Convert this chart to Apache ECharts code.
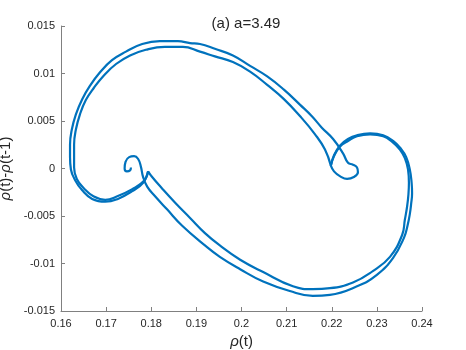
<!DOCTYPE html>
<html>
<head>
<meta charset="utf-8">
<script src="https://cdn.jsdelivr.net/npm/echarts@6/dist/echarts.min.js"></script>
<style>
html,body{margin:0;padding:0;background:#fff;}
#chart{width:466px;height:350px;}
</style>
</head>
<body>
<div id="chart"></div>
<script>
const titleText = '(a) a=3.49';
const xTicks = [0.16, 0.17, 0.18, 0.19, 0.2, 0.21, 0.22, 0.23, 0.24];
const yTicks = [-0.015, -0.01, -0.005, 0, 0.005, 0.01, 0.015];

// outer band: right V tip -> right arc -> right side -> bottom -> lower diagonal -> left curl
const outerLower = [
  [0.2198, 0.0003], [0.2205, 0.0014], [0.2218, 0.0024], [0.2236, 0.0031], [0.2256, 0.0035],
  [0.2285, 0.0037], [0.2314, 0.0035], [0.2336, 0.0029], [0.2353, 0.0021], [0.2365, 0.0012],
  [0.2373, -0.0001], [0.2377, -0.0015], [0.2378, -0.0026], [0.2376, -0.0037], [0.2373, -0.0048],
  [0.2368, -0.0060], [0.2360, -0.0073], [0.2336, -0.0094], [0.2300, -0.0112], [0.2256, -0.0124],
  [0.2196, -0.0133], [0.2158, -0.0134], [0.2107, -0.0129], [0.2048, -0.0119], [0.1997, -0.0106],
  [0.1952, -0.0093], [0.1919, -0.0081], [0.1868, -0.0060], [0.1835, -0.0043], [0.1808, -0.0029],
  [0.1791, -0.0019], [0.1782, -0.0009], [0.1777, 0.0002], [0.1771, 0.0010], [0.1762, 0.0013],
  [0.1751, 0.0012], [0.1743, 0.0007], [0.1741, 0.0000], [0.1746, -0.0003], [0.1753, -0.0002],
  [0.1755, 0.0001]
];

// outer band: left V tip -> left arc -> left side -> top -> upper diagonal -> right curl
const outerUpper = [
  [0.1793, -0.0003], [0.1782, -0.0015], [0.1757, -0.0024], [0.1726, -0.0032], [0.1698, -0.0035],
  [0.1669, -0.0032], [0.1647, -0.0023], [0.1631, -0.0012], [0.1622, -0.0001], [0.1620, 0.0012],
  [0.1620, 0.0025], [0.1624, 0.0041], [0.1633, 0.0057], [0.1647, 0.0073], [0.1664, 0.0087],
  [0.1686, 0.0101], [0.1713, 0.0114], [0.1744, 0.0123], [0.1780, 0.0131], [0.1819, 0.0134],
  [0.1859, 0.0134], [0.1886, 0.0132], [0.1908, 0.0131], [0.1941, 0.0126], [0.1981, 0.0119],
  [0.2019, 0.0108], [0.2057, 0.0097], [0.2094, 0.0083], [0.2130, 0.0067], [0.2156, 0.0055],
  [0.2178, 0.0043], [0.2203, 0.0031], [0.2225, 0.0016], [0.2236, 0.0006], [0.2247, 0.0004],
  [0.2256, 0.0001], [0.2258, -0.0004], [0.2249, -0.0009], [0.2234, -0.0011], [0.2218, -0.0008],
  [0.2205, -0.0003], [0.2198, 0.0003]
];

// inner band: right V tip -> right arc -> right side -> bottom -> lower diagonal -> left V tip
const innerLower = [
  [0.2198, 0.0003], [0.2205, 0.0013], [0.2218, 0.0023], [0.2236, 0.0029], [0.2256, 0.0034],
  [0.2285, 0.0036], [0.2314, 0.0034], [0.2334, 0.0028], [0.2351, 0.0020], [0.2362, 0.0011],
  [0.2369, -0.0001], [0.2371, -0.0015], [0.2370, -0.0027], [0.2367, -0.0040], [0.2362, -0.0054],
  [0.2356, -0.0070], [0.2329, -0.0093], [0.2291, -0.0108], [0.2247, -0.0120], [0.2196, -0.0126],
  [0.2158, -0.0127], [0.2114, -0.0124], [0.2048, -0.0109], [0.1997, -0.0096], [0.1952, -0.0081],
  [0.1919, -0.0068], [0.1886, -0.0052], [0.1853, -0.0036], [0.1824, -0.0021], [0.1802, -0.0009],
  [0.1793, -0.0003]
];

// inner band: left V tip -> left arc -> left side -> top -> upper diagonal -> right V tip
const innerUpper = [
  [0.1793, -0.0003], [0.1784, -0.0013], [0.1757, -0.0022], [0.1726, -0.0029], [0.1698, -0.0033],
  [0.1671, -0.0029], [0.1651, -0.0021], [0.1635, -0.0011], [0.1629, 0.0001], [0.1629, 0.0012],
  [0.1629, 0.0025], [0.1633, 0.0041], [0.1642, 0.0057], [0.1655, 0.0072], [0.1673, 0.0085],
  [0.1695, 0.0098], [0.1722, 0.0110], [0.1753, 0.0119], [0.1788, 0.0125], [0.1830, 0.0128],
  [0.1870, 0.0128], [0.1908, 0.0123], [0.1941, 0.0118], [0.1981, 0.0112], [0.2019, 0.0102],
  [0.2057, 0.0088], [0.2094, 0.0073], [0.2130, 0.0055], [0.2163, 0.0036], [0.2185, 0.0020],
  [0.2198, 0.0003]
];

const lineColor = '#0072BD';
const textColor = '#262626';
const axisColor = '#808080';
const font = '"Liberation Sans", Arial, Helvetica, sans-serif';

function fmt(v) { return String(+(+v).toFixed(3)); }

function mkSeries(data) {
  return {
    type: 'line', data: data, showSymbol: false, smooth: 0.45,
    lineStyle: { color: lineColor, width: 2.2 }, itemStyle: { color: lineColor },
    animation: false, silent: true
  };
}

const chart = echarts.init(document.getElementById('chart'), null, { renderer: 'canvas' });
chart.setOption({
  backgroundColor: '#fff',
  animation: false,
  title: {
    text: titleText, left: 241, top: 11, textAlign: 'center',
    textStyle: { fontFamily: font, fontSize: 15, fontWeight: 'normal', color: textColor }
  },
  grid: { left: 61, right: 44, top: 26, bottom: 39, containLabel: false, outerBoundsMode: 'none' },
  xAxis: {
    type: 'value', min: xTicks[0], max: xTicks[xTicks.length - 1], interval: 0.01,
    name: '{i|ρ}(t)', nameLocation: 'middle', nameGap: 23,
    nameTextStyle: { fontFamily: font, fontSize: 15, color: textColor,
      rich: { i: { fontFamily: font, fontSize: 15, fontStyle: 'italic', color: textColor } } },
    axisLine: { show: true, onZero: false, lineStyle: { color: axisColor, width: 1 } },
    axisTick: { show: true, inside: true, length: 4, lineStyle: { color: axisColor } },
    axisLabel: { fontFamily: font, fontSize: 11, color: textColor, margin: 7, formatter: fmt },
    splitLine: { show: false }
  },
  yAxis: {
    type: 'value', min: yTicks[0], max: yTicks[yTicks.length - 1], interval: 0.005,
    name: '{i|ρ}(t)-{i|ρ}(t-1)', nameLocation: 'middle', nameGap: 38,
    nameTextStyle: { fontFamily: font, fontSize: 15, color: textColor,
      rich: { i: { fontFamily: font, fontSize: 15, fontStyle: 'italic', color: textColor } } },
    axisLine: { show: true, onZero: false, lineStyle: { color: axisColor, width: 1 } },
    axisTick: { show: true, inside: true, length: 4, lineStyle: { color: axisColor } },
    axisLabel: { fontFamily: font, fontSize: 11, color: textColor, margin: 6, formatter: fmt },
    splitLine: { show: false }
  },
  series: [mkSeries(outerLower), mkSeries(outerUpper), mkSeries(innerLower), mkSeries(innerUpper)]
});
</script>
</body>
</html>
